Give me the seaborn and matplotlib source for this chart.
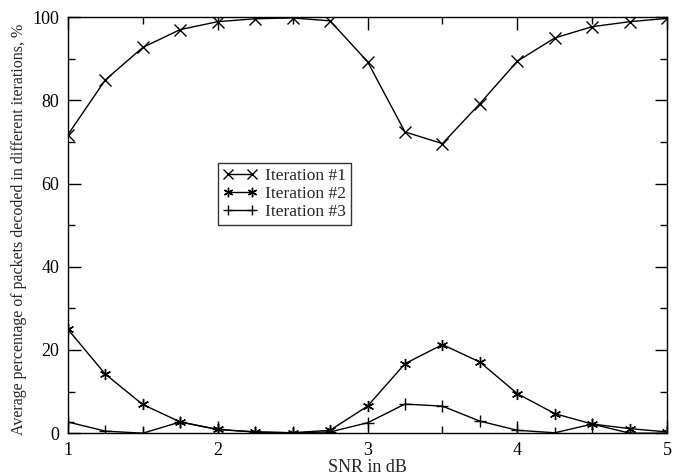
import numpy as np
import pandas as pd
import matplotlib
matplotlib.use("Agg")
import matplotlib.pyplot as plt
import seaborn as sns
from matplotlib.ticker import MultipleLocator

snr = [1.0, 1.25, 1.5, 1.75, 2.0, 2.25, 2.5, 2.75, 3.0, 3.25, 3.5, 3.75, 4.0, 4.25, 4.5, 4.75, 5.0]
iter1 = [71.7, 84.9, 92.7, 97.0, 98.9, 99.6, 99.8, 99.1, 89.3, 72.4, 69.6, 79.2, 89.4, 95.0, 97.7, 98.9, 99.7]
iter2 = [25.0, 14.2, 6.9, 2.7, 0.9, 0.3, 0.1, 0.7, 6.5, 16.7, 21.3, 17.1, 9.5, 4.7, 2.2, 1.1, 0.3]
iter3 = [2.7, 0.5, 0.0, 2.7, 0.9, 0.3, 0.1, 0.3, 2.5, 7.0, 6.5, 2.9, 0.7, 0.1, 2.2, 0.0, 0.0]

labels = ["Iteration #1", "Iteration #2", "Iteration #3"]

sns.set_style("ticks")
plt.rcParams['font.family'] = ['Liberation Serif', 'DejaVu Serif']

fig = plt.figure(figsize=(6.85, 4.75), dpi=100)
ax = fig.add_axes([0.099, 0.088, 0.875, 0.876])

markers = ['x', (6, 2, 0), '+']
for vals, lab, m in zip([iter1, iter2, iter3], labels, markers):
    sns.lineplot(x=snr, y=vals, ax=ax, color='black', linewidth=1.0,
                 marker=m, markersize=8, markeredgewidth=1.0,
                 markeredgecolor='black', label=lab)

ax.set_xlim(1, 5)
ax.set_ylim(0, 100)
ax.xaxis.set_major_locator(MultipleLocator(1))
ax.xaxis.set_minor_locator(MultipleLocator(0.5))
ax.yaxis.set_major_locator(MultipleLocator(20))
ax.yaxis.set_minor_locator(MultipleLocator(10))
ax.tick_params(which='both', direction='in', top=True, right=True,
               labelsize=13, colors='black', pad=6)
ax.tick_params(which='major', length=9, width=1)
ax.tick_params(which='minor', length=5, width=1)
for s in ax.spines.values():
    s.set_color('black')
    s.set_linewidth(1.0)

ax.set_xlabel("SNR in dB", fontsize=13, labelpad=0)
ax.set_ylabel("Average percentage of packets decoded in different iterations, %", fontsize=11.5)
ax.yaxis.set_label_coords(-0.068, 0.49)

leg = ax.legend(loc='upper left', bbox_to_anchor=(0.25, 0.65), frameon=True,
                fancybox=False, edgecolor='black', fontsize=12.5, numpoints=2,
                borderaxespad=0, markerscale=0.85,
                handlelength=2.0, borderpad=0.3, labelspacing=0.1, handletextpad=0.4)
leg.get_frame().set_linewidth(1.0)

fig.savefig("out.png", dpi=100)
